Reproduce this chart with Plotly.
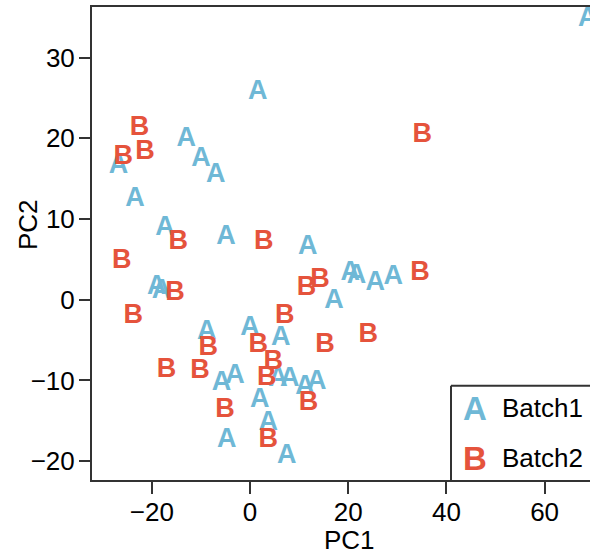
import plotly.graph_objects as go

# Batch1 (letter "A")
a_x = [1.6, -13.0, -10.0, -7.0, -26.8, -23.4, -17.3, -4.9, -19.0, -18.0,
       11.75, 20.4, 21.7, 25.5, 29.2, 17.1, 6.25, -8.8, 0.0, -5.8,
       -3.05, 5.7, 8.1, 11.2, 13.6, 2.0, 3.7, -4.75, 7.5, 68.8]
a_y = [25.7, 19.9, 17.4, 15.45, 16.5, 12.4, 8.85, 7.7, 1.6, 1.0,
       6.5, 3.3, 2.85, 2.0, 2.8, -0.25, -4.8, -4.0, -3.55, -10.4,
       -9.5, -9.9, -9.9, -10.8, -10.2, -12.4, -15.3, -17.4, -19.45, 34.8]

# Batch2 (letter "B")
b_x = [-22.5, -21.4, -25.8, 35.1, -14.6, 2.8, -26.1, -15.3, -23.8, 14.25,
       11.5, 34.6, 7.1, 24.1, 15.3, -8.5, 1.7, -17.0, -10.2, 4.75,
       3.4, 11.9, -5.1, 3.7]
b_y = [21.2, 18.3, 17.7, 20.4, 7.06, 7.06, 4.8, 0.8, -2.1, 2.45,
       1.4, 3.3, -2.1, -4.4, -5.6, -6.0, -5.6, -8.7, -8.9, -7.7,
       -9.75, -12.8, -13.7, -17.4]

x_ticks = [-20, 0, 20, 40, 60]
y_ticks = [-20, -10, 0, 10, 20, 30]
series_names = ["Batch1", "Batch2"]
letters = ["A", "B"]
colors = ["#6FB8D6", "#E5533C"]

FONT = "Liberation Sans, Arial, sans-serif"


def tick_text(vals):
    return ["\u2212" + str(-v) if v < 0 else str(v) for v in vals]


fig = go.Figure()
for xs, ys, letter, col, name in [(a_x, a_y, letters[0], colors[0], series_names[0]),
                                  (b_x, b_y, letters[1], colors[1], series_names[1])]:
    fig.add_trace(go.Scatter(
        x=xs, y=ys, mode="text", text=["<b>%s</b>" % letter] * len(xs),
        textposition="middle center",
        textfont=dict(family=FONT, size=27, color=col),
        name=name, showlegend=False, cliponaxis=True,
    ))

axis_col = "#333333"
fig.update_layout(
    width=590, height=554,
    margin=dict(l=92, r=0, t=7, b=74),
    paper_bgcolor="white", plot_bgcolor="white",
    font=dict(family=FONT, size=26, color="black"),
    xaxis=dict(range=[-32.18, 69.25], tickvals=x_ticks, ticktext=tick_text(x_ticks),
               showgrid=False, zeroline=False, showline=True, mirror=True,
               linecolor=axis_col, linewidth=2, ticks="outside", ticklen=12,
               tickwidth=1.5, tickcolor=axis_col, ticklabelstandoff=-4,
               tickfont=dict(size=26, color="black")),
    yaxis=dict(range=[-22.34, 36.27], tickvals=y_ticks, ticktext=tick_text(y_ticks),
               showgrid=False, zeroline=False, showline=True, mirror=False,
               linecolor=axis_col, linewidth=2, ticks="outside", ticklen=11,
               tickwidth=1.5, tickcolor=axis_col, ticklabelstandoff=-1,
               tickfont=dict(size=26, color="black")),
    showlegend=False,
)

# axis titles
fig.add_annotation(text="PC1", xref="paper", yref="paper", x=0.518, y=-0.127,
                   xanchor="center", yanchor="middle", showarrow=False,
                   font=dict(size=26, color="black"))
fig.add_annotation(text="PC2", xref="paper", yref="paper", x=-0.1285, y=0.539,
                   xanchor="center", yanchor="middle", showarrow=False, textangle=-90,
                   font=dict(size=26, color="black"))

# legend box (left and top edges; right side is cut off)
lx0 = (451 - 92) / 498
ly1 = (480 - 385.7) / 473
fig.add_shape(type="line", xref="paper", yref="paper", x0=lx0, x1=lx0, y0=0, y1=ly1,
              line=dict(color=axis_col, width=2))
fig.add_shape(type="line", xref="paper", yref="paper", x0=lx0, x1=1.0, y0=ly1, y1=ly1,
              line=dict(color=axis_col, width=2))
for i, (letter, col, name) in enumerate(zip(letters, colors, series_names)):
    yy = 0.152 - i * 0.1055
    fig.add_annotation(text="<b>%s</b>" % letter, xref="paper", yref="paper", x=0.769, y=yy,
                       xanchor="center", yanchor="middle", showarrow=False,
                       font=dict(size=33, color=col))
    fig.add_annotation(text=name, xref="paper", yref="paper", x=0.8193, y=yy,
                       xanchor="left", yanchor="middle", showarrow=False,
                       font=dict(size=26, color="black"))

fig.write_html("out.html")
